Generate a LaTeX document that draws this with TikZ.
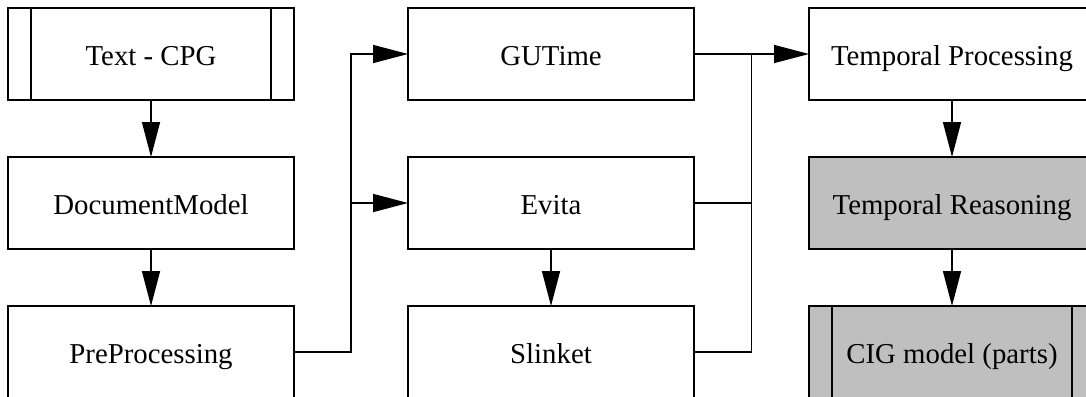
\documentclass[tikz,border=0pt]{standalone}
\usepackage{fontspec}
\setmainfont{Liberation Serif}
\usetikzlibrary{arrows.meta,positioning,calc}

\begin{document}
\begin{tikzpicture}[line width=0.75pt,node distance=28.5pt and 57pt,
    box/.style={draw,minimum width=143pt,minimum height=46pt,inner sep=0pt,outer sep=0pt,
        text height=12pt,text depth=1pt,font=\fontsize{14.4}{17}\selectfont},
    ext/.style={box,path picture={
        \draw ([xshift=11.5pt]path picture bounding box.north west) -- ([xshift=11.5pt]path picture bounding box.south west);
        \draw ([xshift=-11.5pt]path picture bounding box.north east) -- ([xshift=-11.5pt]path picture bounding box.south east);}},
    shade/.style={fill=black!25},
    flow/.style={-{Triangle[length=17.5pt,width=9pt]}}]
\path[use as bounding box,clip] (0,0) rectangle (543pt,-198pt);
% left column
\node[ext,anchor=north west] (cpg) at (4pt,-4pt) {Text - CPG};
\node[box,below=of cpg] (docmodel) {DocumentModel};
\node[box,below=of docmodel] (prep) {PreProcessing};
% middle column
\node[box,right=of cpg] (gutime) {GUTime};
\node[box,below=of gutime] (evita) {Evita};
\node[box,below=of evita] (slinket) {Slinket};
% right column
\node[box,right=57.5pt of gutime] (tproc) {Temporal Processing};
\node[box,shade,below=of tproc] (treason) {Temporal Reasoning};
\node[ext,shade,below=of treason] (cig) {CIG model (parts)};

\coordinate (jl) at ($(prep.east)!.5!(slinket.west)$);
\coordinate (jr) at ($(slinket.east)!.5!(cig.west)$);

\draw[flow] (cpg) -- (docmodel);
\draw[flow] (docmodel) -- (prep);
\draw[flow] (prep.east) -- (jl) |- (gutime.west);
\draw[flow] (jl |- evita.west) -- (evita.west);
\draw[flow] (evita) -- (slinket);
\draw[flow] (gutime.east) -- (tproc.west);
\draw (slinket.east) -| (jr |- gutime.east);
\draw (evita.east) -- (jr |- evita.east);
\draw[flow] (tproc) -- (treason);
\draw[flow] (treason) -- (cig);
\end{tikzpicture}
\end{document}
